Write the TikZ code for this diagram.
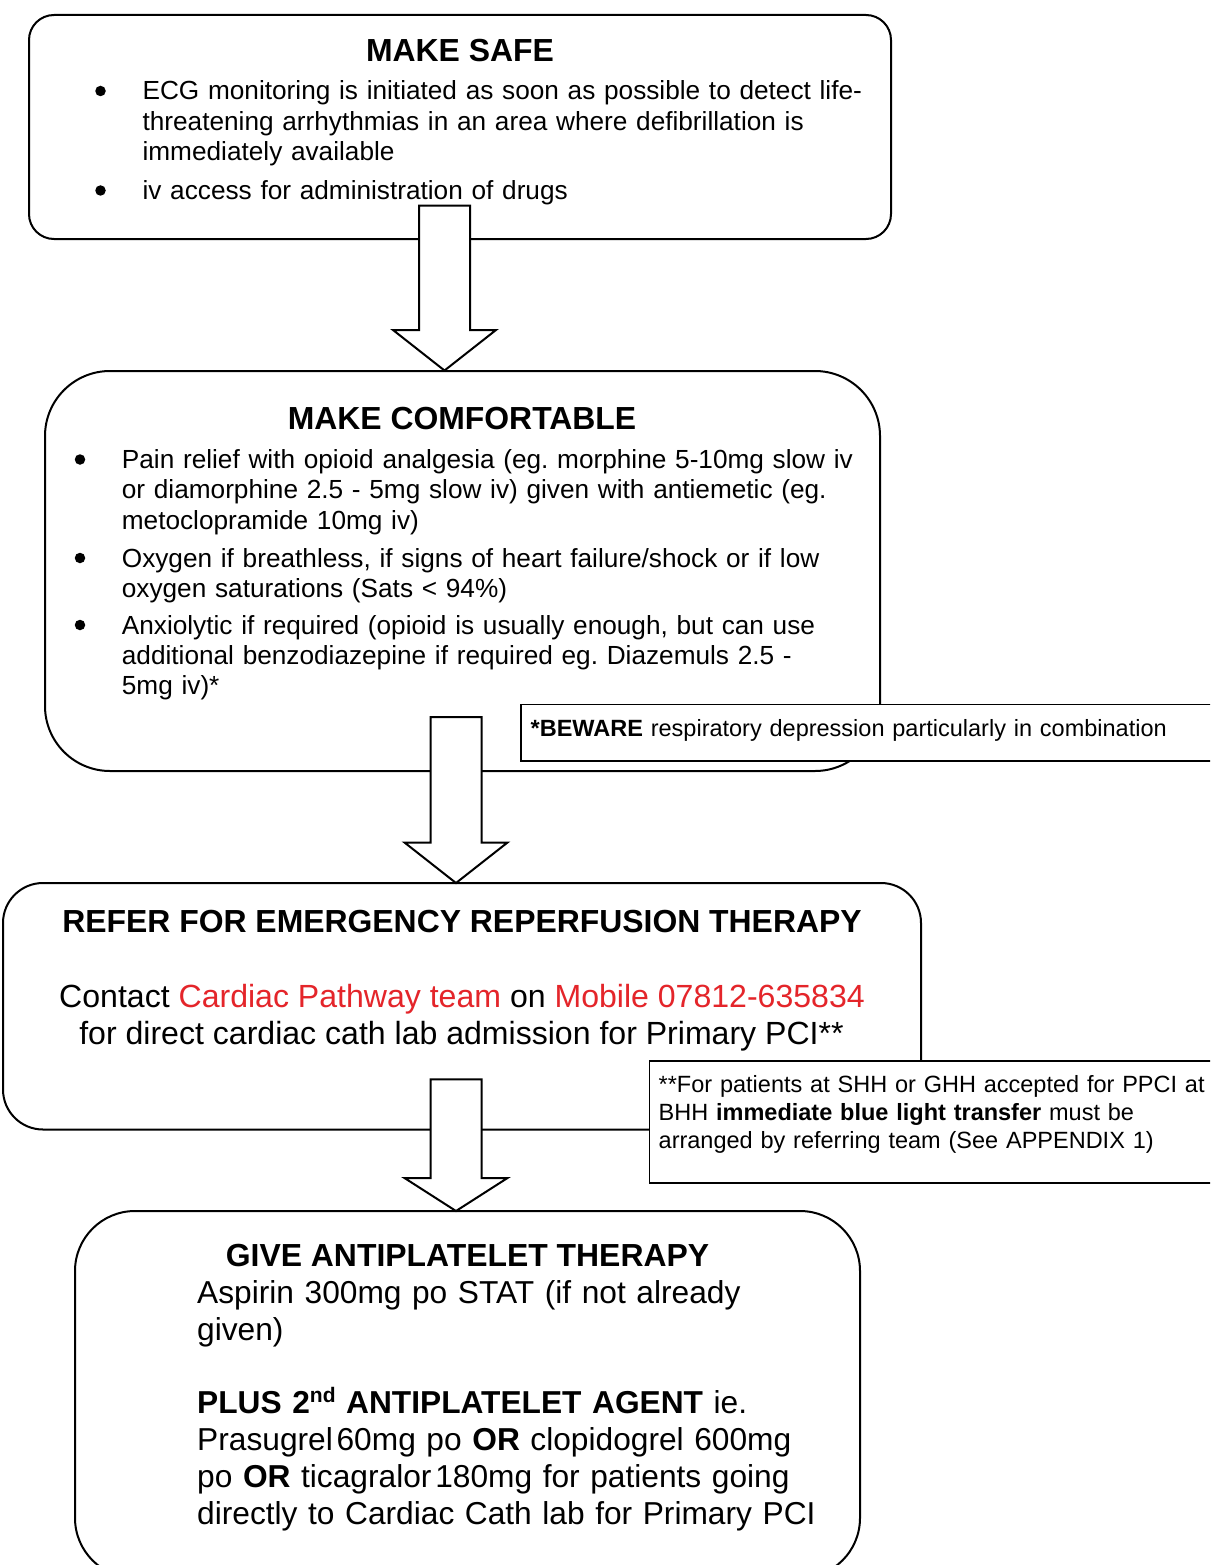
\documentclass[tikz,border=0pt]{standalone}
\usepackage{fontspec}
\setmainfont{Liberation Sans}
\usetikzlibrary{calc}

\definecolor{cardred}{RGB}{228,37,42}

\newcommand{\hdfont}{\fontsize{31.9}{36.7}\selectfont\bfseries}
\newcommand{\txtfont}{\fontsize{26.2}{30.4}\selectfont}
\newcommand{\bigtxtfont}{\fontsize{31.7}{36.8}\selectfont}
\newcommand{\smtxtfont}{\fontsize{23.5}{28}\selectfont}

% block arrow: #1 top of shaft, #2 tip, #3 height of head
\newcommand{\blockarrow}[3]{%
  \draw[arrowbody] ($(#1)+(-25.5,0)$) -- ($(#1)+(25.5,0)$) -- ($(#2)+(25.5,-#3)$)
    -- ($(#2)+(51.5,-#3)$) -- (#2) -- ($(#2)+(-51.5,-#3)$) -- ($(#2)+(-25.5,-#3)$) -- cycle;}

\frenchspacing

\begin{document}
\begin{tikzpicture}[x=1pt, y=-1pt,
  stepbox/.style={draw, line width=2pt, fill=white},
  notebox/.style={draw, line width=1.8pt, fill=white},
  arrowbody/.style={draw, line width=2pt, fill=white},
  heading/.style={font=\hdfont, anchor=base, inner sep=0pt},
  bodytext/.style={font=\txtfont, anchor=base west, inner sep=0pt, text width=780pt, align=left},
  bigtext/.style={font=\bigtxtfont, anchor=base west, inner sep=0pt, text width=700pt, align=left},
  notetext/.style={font=\smtxtfont, anchor=base west, inner sep=0pt, text width=700pt, align=left},
  dot/.style={circle, fill=black, inner sep=0pt, minimum size=10.5pt}]

  \clip (0,0) rectangle (1210,1565);

  % Make safe
  \draw[stepbox, rounded corners=25pt] (29,15) rectangle (891,239);
  \node[heading] (safehead) at (460,61.7) {MAKE SAFE};
  \node[dot] (sb1) at (100.5,91) {};
  \node[bodytext] (ecg) at (142.4,100) {ECG monitoring is initiated as soon as possible to detect life-\\
    threatening arrhythmias in an area where defibrillation is\\
    immediately available};
  \node[dot] (sb2) at (100.5,190.5) {};
  \node[bodytext] (ivaccess) at (142.4,199.5) {iv access for administration of drugs};

  % Make comfortable
  \draw[stepbox, rounded corners=65pt] (45,371) rectangle (880,771);
  \node[heading] (comfhead) at (462,429) {MAKE COMFORTABLE};
  \node[dot] (cb1) at (80,459.5) {};
  \node[bodytext] (pain) at (121.7,468.3) {Pain relief with opioid analgesia (eg. morphine 5-10mg slow iv\\
    or diamorphine 2.5 - 5mg slow iv) given with antiemetic (eg.\\
    metoclopramide 10mg iv)};
  \node[dot] (cb2) at (80,558) {};
  \node[bodytext] (oxygen) at (121.7,567) {Oxygen if breathless, if signs of heart failure/shock or if low\\
    oxygen saturations (Sats {<} 94\%)};
  \node[dot] (cb3) at (80,625) {};
  \node[bodytext] (anxio) at (121.7,634) {Anxiolytic if required (opioid is usually enough, but can use\\
    additional benzodiazepine if required eg. Diazemuls 2.5 -\\
    5mg iv)*};

  % Refer for reperfusion
  \draw[stepbox, rounded corners=40pt] (3,883) rectangle (921,1129.5);
  \node[heading] (referhead) at (462,932.5) {REFER FOR EMERGENCY REPERFUSION THERAPY};
  \node[heading, font=\fontsize{32.06}{36.8}\selectfont] (contact) at (462,1007.3) {Contact \textcolor{cardred}{Cardiac Pathway team} on \textcolor{cardred}{Mobile 07812-635834}};
  \node[heading, font=\fontsize{32.06}{36.8}\selectfont] (cathlab) at (461.5,1044) {for direct cardiac cath lab admission for Primary PCI**};

  % Give antiplatelet therapy
  \draw[stepbox, rounded corners=60pt] (75,1211) rectangle (860,1578);
  \node[heading] (givehead) at (467.5,1266.7) {GIVE ANTIPLATELET THERAPY};
  \node[bigtext] (aspirin) at (197,1303.3) {Aspirin 300mg po STAT (if not already\\
    given)};
  \node[bigtext] (plus) at (197,1413.7) {\textbf{PLUS 2\raisebox{0.36em}{\fontsize{21}{21}\selectfont nd} ANTIPLATELET AGENT} ie.\\
    Prasugrel\hspace{0.12em}60mg po \textbf{OR} clopidogrel 600mg\\
    po \textbf{OR} ticagralor\hspace{0.12em}180mg for patients going\\
    directly to Cardiac Cath lab for Primary PCI};

  % Notes
  \draw[notebox] (521,704.5) rectangle (1225,761);
  \node[notetext] (beware) at (530.5,736.5) {\textbf{*BEWARE} respiratory depression particularly in combination};
  \draw[notebox] (649.5,1061) rectangle (1225,1183);
  \node[notetext] (transfer) at (658.5,1092.5) {**For patients at SHH or GHH accepted for PPCI at\\
    BHH \textbf{immediate blue light transfer} must be\\
    arranged by referring team (See APPENDIX 1)};

  % Arrows between steps
  \coordinate (safeout) at (444.5,205.5);
  \coordinate (comfin) at (444.5,370.5);
  \coordinate (comfout) at (456,717);
  \coordinate (referin) at (456,883);
  \coordinate (referout) at (456,1079.3);
  \coordinate (givein) at (456,1211);
  \blockarrow{safeout}{comfin}{40.5}
  \blockarrow{comfout}{referin}{40.5}
  \blockarrow{referout}{givein}{33}

\end{tikzpicture}
\end{document}
